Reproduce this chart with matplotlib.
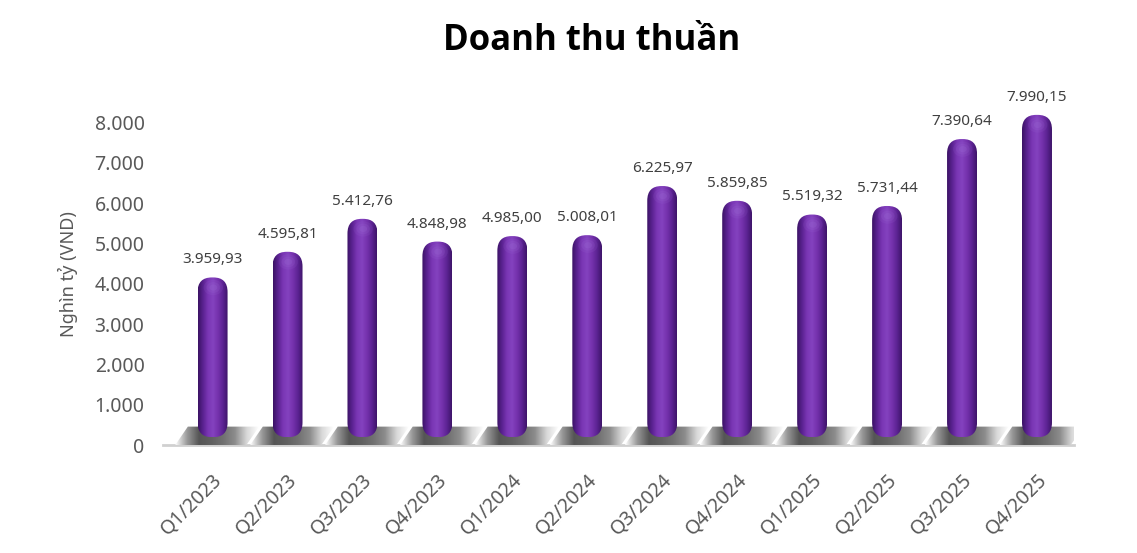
import matplotlib.pyplot as plt
import numpy as np
from matplotlib.colors import LinearSegmentedColormap
from matplotlib.patches import FancyBboxPatch, Polygon, Ellipse
from matplotlib.transforms import ScaledTranslation

plt.rcParams["font.family"] = ["Noto Sans", "DejaVu Sans"]

quarters = ["Q1/2023", "Q2/2023", "Q3/2023", "Q4/2023",
            "Q1/2024", "Q2/2024", "Q3/2024", "Q4/2024",
            "Q1/2025", "Q2/2025", "Q3/2025", "Q4/2025"]
revenue = [3959.93, 4595.81, 5412.76, 4848.98,
           4985.00, 5008.01, 6225.97, 5859.85,
           5519.32, 5731.44, 7390.64, 7990.15]
yticks = [0, 1000, 2000, 3000, 4000, 5000, 6000, 7000, 8000]


def vn_number(v, decimals=2):
    # Vietnamese style: dot for thousands, comma for decimals
    s = f"{v:,.{decimals}f}"
    return s.replace(",", "X").replace(".", ",").replace("X", ".")


fig = plt.figure(figsize=(11.37, 5.53), dpi=100)
ax = fig.add_axes([0.154, 0.195, 0.791, 0.62])
ax.set_xlim(-0.5, len(quarters) - 0.5)
ax.set_ylim(0, 8500)

# perspective lift: bars sit a little above the floor line
lift = ax.transData + ScaledTranslation(0, 8 / 100, fig.dpi_scale_trans)

bar_cmap = LinearSegmentedColormap.from_list(
    "cyl", ["#3a1263", "#5a2290", "#7a36b4", "#8442bf", "#7532ad", "#5c2393", "#3e1468"])
shadow_cmap = LinearSegmentedColormap.from_list(
    "shd", ["#ffffff", "#9a9a9a", "#555555", "#606060", "#707070", "#8c8c8c",
            "#d8d8d8", "#ffffff"])

w = 0.4
grad = np.linspace(0, 1, 256).reshape(1, -1)

for i, v in enumerate(revenue):
    # floor shadow (slanted band)
    sh = Polygon([(i - 0.5, 0), (i + 0.45, 0), (i + 0.62, 460), (i - 0.33, 460)],
                 closed=True, facecolor="none", edgecolor="none")
    ax.add_patch(sh)
    im = ax.imshow(grad, cmap=shadow_cmap, aspect="auto",
                   extent=(i - 0.5, i + 0.62, 0, 460), zorder=1)
    im.set_clip_path(sh)

    # cylinder body with rounded ends
    box = FancyBboxPatch((i - w / 2, 0), w, v,
                         boxstyle="round,pad=0,rounding_size=0.19",
                         mutation_aspect=1900, transform=lift,
                         facecolor="none", edgecolor="none", zorder=3)
    ax.add_patch(box)
    body = ax.imshow(grad, cmap=bar_cmap, aspect="auto",
                     extent=(i - w / 2, i + w / 2, 0, v), zorder=3,
                     transform=lift)
    body.set_clip_path(box)

    # soft highlight near top
    for k, a in [(1.0, 0.12), (0.7, 0.15), (0.4, 0.2)]:
        glow = Ellipse((i + 0.01, v - 250), 0.26 * k, 380 * k, transform=lift,
                       facecolor="#a070d8", edgecolor="none", alpha=a, zorder=4)
        glow.set_clip_path(box)
        ax.add_patch(glow)

    ax.annotate(vn_number(v), (i, v), xytext=(0, 13), textcoords="offset points",
                ha="center", va="bottom", fontsize=11, color="#404040")

# floor line
ax.axhline(0, xmin=-0.013, xmax=1.0, color="#d0d0d0", linewidth=2, zorder=0,
           clip_on=False)

ax.set_yticks(yticks)
ax.set_yticklabels([vn_number(t, 0) for t in yticks], fontsize=14, color="#595959")
ax.set_xticks(range(len(quarters)))
ax.set_xticklabels(quarters, rotation=45, ha="right", rotation_mode="anchor",
                   fontsize=14, color="#595959")
ax.tick_params(axis="both", length=0)
ax.tick_params(axis="x", pad=18)
ax.tick_params(axis="y", pad=22)
for s in ax.spines.values():
    s.set_visible(False)

ax.set_ylabel("Nghìn tỷ (VND)", fontsize=13, color="#595959", labelpad=12)
fig.suptitle("Doanh thu thuần", fontsize=25, fontweight="bold",
             family=["Open Sans", "Liberation Sans", "DejaVu Sans"], x=0.52, y=0.958)

plt.savefig("out.png", dpi=100)
